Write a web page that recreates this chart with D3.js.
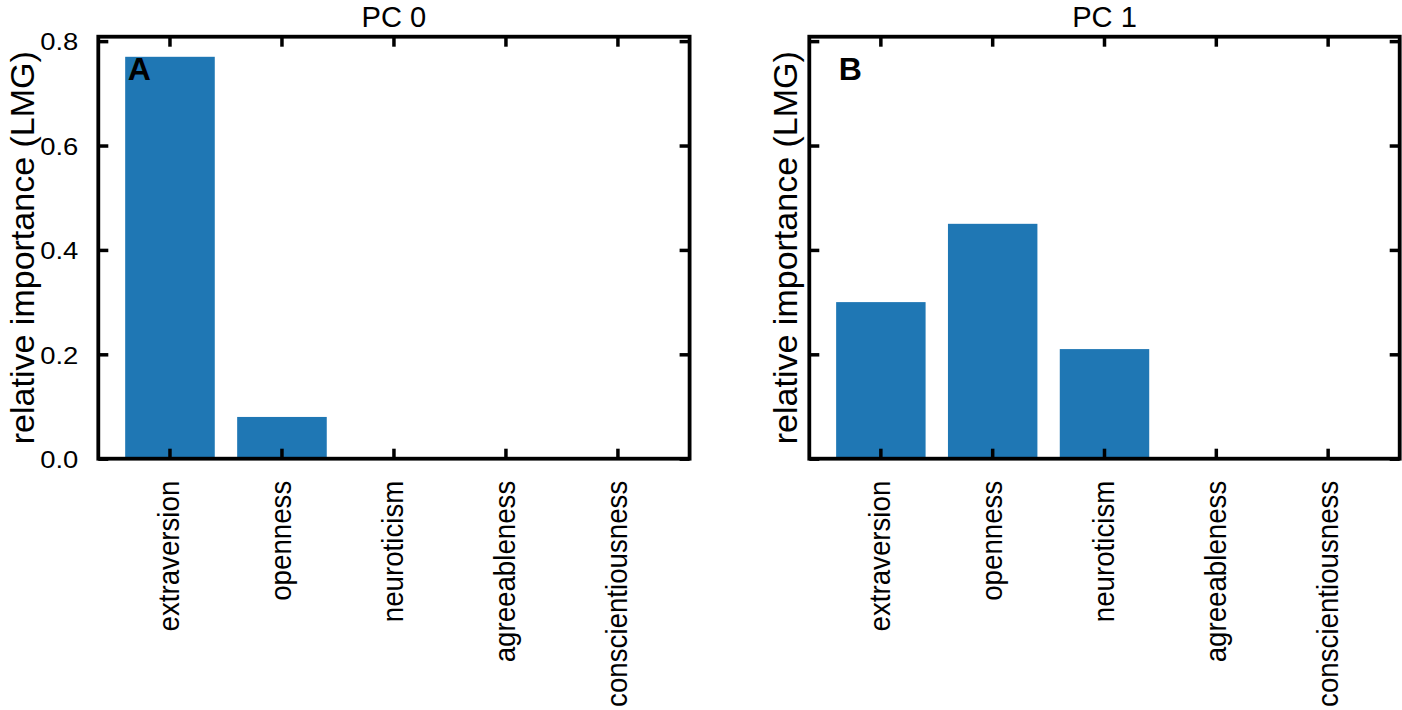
<!DOCTYPE html>
<html>
<head>
<meta charset="utf-8">
<script src="https://cdn.jsdelivr.net/npm/d3@7"></script>
<style>
  html, body { margin: 0; padding: 0; background: #fff; }
  svg { display: block; font-family: "Liberation Sans", Arial, Helvetica, sans-serif; }
</style>
</head>
<body>
<svg id="chart" width="1402" height="710"></svg>
<script>
// ---- data ----
const categories = ["extraversion", "openness", "neuroticism", "agreeableness", "conscientiousness"];
const pc0Values = [0.77, 0.08, 0.0, 0.0, 0.0];
const pc1Values = [0.30, 0.45, 0.21, 0.0, 0.0];
const panelTitles = ["PC 0", "PC 1"];
const panelLetters = ["A", "B"];
const yTicks = [0.0, 0.2, 0.4, 0.6, 0.8];
const yLabel = "relative importance (LMG)";

(function () {
const svg = d3.select("#chart");
const barColor = "#1f77b4";
const FONT = "Liberation Sans, Arial, sans-serif";

const plotTop = 36.7, plotBottom = 458.7;
const panels = [
  { left: 98.3, right: 689.6, values: pc0Values, title: panelTitles[0], letter: panelLetters[0], showTickLabels: true, ylabX: 34 },
  { left: 809.3, right: 1399.7, values: pc1Values, title: panelTitles[1], letter: panelLetters[1], showTickLabels: false, ylabX: 797 }
];

const yMax = d3.max(pc0Values.concat(pc1Values)) * 1.05;
const y = d3.scaleLinear().domain([0, yMax]).range([plotBottom, plotTop]);

const tickLen = 10;
const spineW = 3.8;
const tickW = 3.5;

// text styling (size, horizontal stretch)
const xtf = 27.7, xtsx = 1.07;
const ytf = 24.5, ytsx = 1.12;
const ylf = 34, ylsx = 1.0;
const ttf = 30, ttsx = 0.97;

panels.forEach(p => {
  const x = d3.scaleBand().domain(categories).range([p.left, p.right])
    .paddingInner(0.2).paddingOuter(0.24);
  const g = svg.append("g");

  g.selectAll("rect.bar").data(categories).enter().append("rect")
    .attr("class", "bar")
    .attr("x", d => x(d))
    .attr("width", x.bandwidth())
    .attr("y", (d, i) => y(p.values[i]))
    .attr("height", (d, i) => y(0) - y(p.values[i]))
    .attr("fill", barColor);

  const xAxisB = d3.axisBottom(x).tickSize(-tickLen).tickSizeOuter(0).tickFormat("");
  const gxb = g.append("g").attr("transform", `translate(0,${plotBottom})`).call(xAxisB);
  const xAxisT = d3.axisTop(x).tickSize(-tickLen).tickSizeOuter(0).tickFormat("");
  const gxt = g.append("g").attr("transform", `translate(0,${plotTop})`).call(xAxisT);
  const yAxisL = d3.axisLeft(y).tickValues(yTicks).tickSize(-tickLen).tickSizeOuter(0)
    .tickFormat(p.showTickLabels ? d3.format(".1f") : "");
  const gyl = g.append("g").attr("transform", `translate(${p.left},0)`).call(yAxisL);
  const yAxisR = d3.axisRight(y).tickValues(yTicks).tickSize(-tickLen).tickSizeOuter(0).tickFormat("");
  const gyr = g.append("g").attr("transform", `translate(${p.right},0)`).call(yAxisR);

  [gxb, gxt, gyl, gyr].forEach(ax => {
    ax.select(".domain").remove();
    ax.selectAll(".tick line").attr("stroke", "#000").attr("stroke-width", tickW);
  });

  gyl.selectAll(".tick text")
    .attr("x", 0)
    .attr("transform", `translate(-20,0) scale(${ytsx},1)`)
    .attr("dy", "0.358em")
    .attr("font-size", ytf)
    .attr("fill", "#000")
    .attr("font-family", FONT);

  gxb.selectAll(".tick").append("text")
    .attr("transform", `translate(9.5,22) scale(${xtsx},1) rotate(-90)`)
    .attr("text-anchor", "end")
    .attr("font-size", xtf)
    .attr("fill", "#000")
    .attr("font-family", FONT)
    .text(d => d);

  g.append("rect")
    .attr("x", p.left).attr("y", plotTop)
    .attr("width", p.right - p.left).attr("height", plotBottom - plotTop)
    .attr("fill", "none").attr("stroke", "#000").attr("stroke-width", spineW)
    .attr("stroke-linejoin", "miter");

  g.append("text")
    .attr("transform", `translate(${(p.left + p.right) / 2},27) scale(${ttsx},1)`)
    .attr("text-anchor", "middle")
    .attr("font-size", ttf)
    .attr("font-family", FONT)
    .text(p.title);

  g.append("text")
    .attr("x", p.left + 29.5).attr("y", 80)
    .attr("font-size", 32)
    .attr("font-weight", "bold")
    .attr("font-family", FONT)
    .text(p.letter);

  g.append("text")
    .attr("transform", `translate(${p.ylabX},${(plotTop + plotBottom) / 2}) scale(${ylsx},1) rotate(-90)`)
    .attr("text-anchor", "middle")
    .attr("font-size", ylf)
    .attr("font-family", FONT)
    .text(yLabel);
});
})();
</script>
</body>
</html>
